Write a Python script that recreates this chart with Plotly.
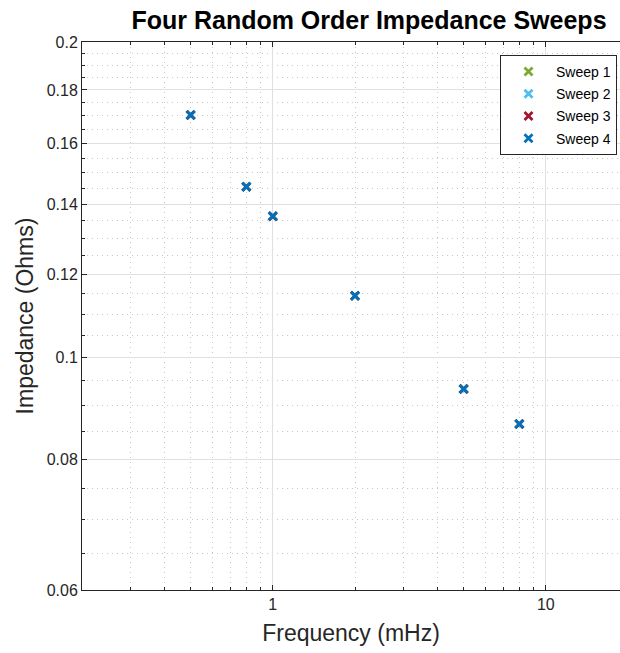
import numpy as np
import plotly.graph_objects as go

# ---- data ----
freq_mhz = [0.5, 0.8, 1.0, 2.0, 5.0, 8.0]
sweep1 = [0.1704, 0.1455, 0.1364, 0.1145, 0.0933, 0.0864]
sweep2 = [0.1704, 0.1455, 0.1364, 0.1145, 0.0933, 0.0864]
sweep3 = [0.1704, 0.1455, 0.1364, 0.1145, 0.0933, 0.0864]
sweep4 = [0.1704, 0.1455, 0.1364, 0.1145, 0.0933, 0.0864]
series_names = ["Sweep 1", "Sweep 2", "Sweep 3", "Sweep 4"]
series_colors = ["#77AC30", "#4DBEEE", "#A2142F", "#0072BD"]

y_major = [0.06, 0.08, 0.1, 0.12, 0.14, 0.16, 0.18, 0.2]
y_major_text = ["0.06", "0.08", "0.1", "0.12", "0.14", "0.16", "0.18", "0.2"]
y_minor = [round(0.06 + 0.005 * i, 3) for i in range(29)]
y_minor = [v for v in y_minor if v not in y_major]
x_major = [0.1, 1, 10, 100]
x_major_text = ["0.1", "1", "10", "100"]
x_minor = [m * d for d in (0.1, 1, 10) for m in range(2, 10)]

W, H = 620, 653
L, T, B, R = 82, 42, 63, 0

fig = go.Figure()
for name, col, ys in zip(series_names, series_colors, [sweep1, sweep2, sweep3, sweep4]):
    fig.add_trace(go.Scatter(
        x=freq_mhz, y=ys, mode="markers", name=name, legendgroup=name,
        marker=dict(symbol="x-thin", size=8, color=col, line=dict(color=col, width=2.8)),
    ))

axis_col = "#262626"
fam = "Liberation Sans, Arial, sans-serif"
tickfont = dict(family=fam, size=16, color=axis_col)

# x range: 0.2 at left edge; 273 px per decade, right edge clipped by window
px_per_dec = 273.0
x_lo = np.log10(0.2)
x_hi = x_lo + (W - L - R) / px_per_dec

minor_grid = dict(ticks="inside", ticklen=3, tickcolor=axis_col,
                  showgrid=True, gridcolor="#c8c8c8", griddash="1px,4px", gridwidth=1)

fig.update_xaxes(
    type="log", range=[x_lo, x_hi],
    tickmode="array", tickvals=x_major, ticktext=x_major_text,
    ticks="inside", ticklen=5, tickwidth=1, tickcolor=axis_col,
    showline=True, linecolor=axis_col, linewidth=1, mirror="ticks",
    showgrid=True, gridcolor="#e0e0e0", gridwidth=1,
    minor=dict(tickvals=x_minor, **minor_grid),
    tickfont=tickfont, zeroline=False,
    title=dict(text="Frequency (mHz)", font=dict(family=fam, size=23, color=axis_col), standoff=12),
)
fig.update_yaxes(
    type="log", range=[np.log10(0.06), np.log10(0.2)],
    tickmode="array", tickvals=y_major, ticktext=y_major_text,
    ticks="inside", ticklen=5, tickwidth=1, tickcolor=axis_col,
    showline=True, linecolor=axis_col, linewidth=1, mirror=False,
    showgrid=True, gridcolor="#e0e0e0", gridwidth=1,
    minor=dict(tickvals=y_minor, **minor_grid),
    tickfont=tickfont, zeroline=False,
    title=dict(text="Impedance (Ohms)", font=dict(family=fam, size=23, color=axis_col), standoff=6),
)

fig.update_layout(
    width=W, height=H,
    margin=dict(l=L, r=R, t=T, b=B, pad=0),
    paper_bgcolor="white", plot_bgcolor="white",
    title=dict(text="<b>Four Random Order Impedance Sweeps</b>",
               font=dict(family=fam, size=25, color="black"),
               x=369 / W, xanchor="center", xref="container",
               y=1 - 20 / H, yanchor="middle"),
    legend=dict(x=(617 - L) / (W - L - R), xanchor="right", y=(H - B - 55) / (H - T - B), yanchor="top",
                bgcolor="white", bordercolor=axis_col, borderwidth=1,
                font=dict(family=fam, size=14, color="black"),
                itemwidth=45,
                traceorder="grouped", tracegroupgap=1),
    showlegend=True,
)

fig.write_html("out.html")
